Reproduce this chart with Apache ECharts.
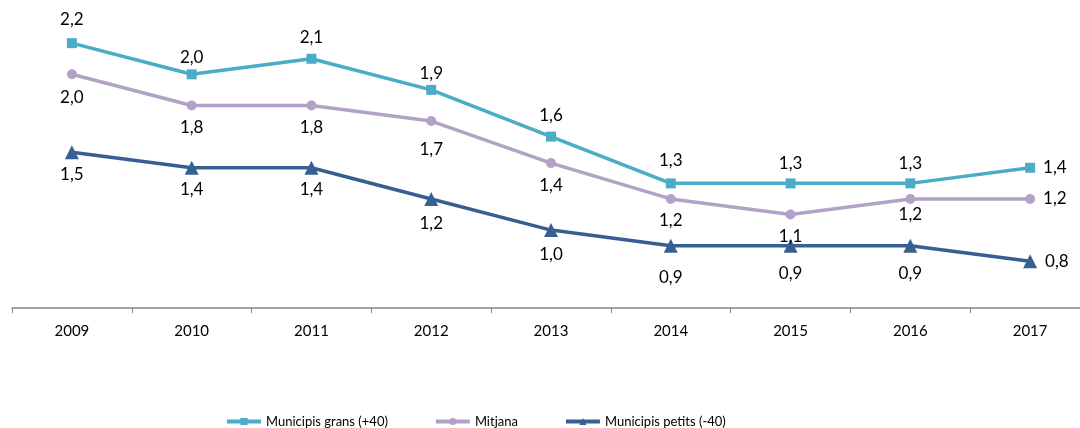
<!DOCTYPE html>
<html>
<head>
<meta charset="utf-8">
<script src="https://cdn.jsdelivr.net/npm/echarts@6/dist/echarts.min.js"></script>
<style>
  html, body { margin: 0; padding: 0; background: #fff; }
  #chart { width: 1080px; height: 428px; }
</style>
</head>
<body>
<div id="chart"></div>
<script>
// chart data
const years = ['2009', '2010', '2011', '2012', '2013', '2014', '2015', '2016', '2017'];
const grans = [2.2, 2.0, 2.1, 1.9, 1.6, 1.3, 1.3, 1.3, 1.4];
const mitjana = [2.0, 1.8, 1.8, 1.7, 1.43, 1.2, 1.1, 1.2, 1.2];
const petits = [1.5, 1.4, 1.4, 1.2, 1.0, 0.9, 0.9, 0.9, 0.8];

const FONT = 'Lato';
const fmt = (v) => v.toFixed(1).replace('.', ',');

// label distance tweaks (Excel places them slightly unevenly)
const gransDist = [10, 3, 8, 3, 8, 9, 6, 6, 8];
const mitjanaDist = [10, 9, 9, 15, 9, 8, 8, 2, 8];
const petitsDist = [7, 6, 6, 9, 9, 16, 12, 12, 8];

// turn a value list into data items, the last point gets its label on the right
const toItems = (values, pos, dists) => values.map((v, i) => ({
  value: v,
  label: {
    position: i === values.length - 1 ? 'right' : pos,
    distance: dists[i]
  }
}));

const labelStyle = {
  show: true,
  color: '#000',
  fontFamily: FONT,
  fontSize: 17,
  formatter: (p) => fmt(p.value)
};

const chart = echarts.init(document.getElementById('chart'));

chart.setOption({
  animation: false,
  textStyle: { fontFamily: FONT },
  // plot runs a bit past the right edge, as in the original picture
  grid: { left: 12, right: -10, top: 12, bottom: 120, containLabel: false, outerBoundsMode: 'none' },
  legend: {
    left: 220,
    top: 410,
    itemWidth: 34,
    itemHeight: 9,
    itemGap: 46,
    lineStyle: { width: 4 },
    textStyle: { color: '#000', fontSize: 13, fontFamily: FONT },
    data: ['Municipis grans (+40)', 'Mitjana', 'Municipis petits (-40)']
  },
  xAxis: {
    type: 'category',
    data: years,
    boundaryGap: true,
    axisLine: { lineStyle: { color: '#868686', width: 1.5 } },
    axisTick: { show: true, length: 5, lineStyle: { color: '#868686' } },
    axisLabel: { color: '#000', fontSize: 15, fontFamily: FONT, margin: 16 }
  },
  yAxis: {
    type: 'value',
    min: 0.5,
    max: 2.4,
    show: false
  },
  series: [
    {
      name: 'Municipis grans (+40)',
      type: 'line',
      data: toItems(grans, 'top', gransDist),
      symbol: 'rect',
      symbolSize: 10,
      color: '#4bacc6',
      lineStyle: { width: 3.5, color: '#4bacc6' },
      itemStyle: { color: '#4bacc6' },
      label: labelStyle
    },
    {
      name: 'Mitjana',
      type: 'line',
      data: toItems(mitjana, 'bottom', mitjanaDist),
      symbol: 'circle',
      symbolSize: 10,
      color: '#b3a2c7',
      lineStyle: { width: 3.5, color: '#b3a2c7' },
      itemStyle: { color: '#b3a2c7' },
      label: labelStyle
    },
    {
      name: 'Municipis petits (-40)',
      type: 'line',
      data: toItems(petits, 'bottom', petitsDist),
      symbol: 'triangle',
      symbolSize: 14,
      color: '#376092',
      lineStyle: { width: 3.5, color: '#376092' },
      itemStyle: { color: '#376092' },
      label: labelStyle
    }
  ]
});
</script>
</body>
</html>
